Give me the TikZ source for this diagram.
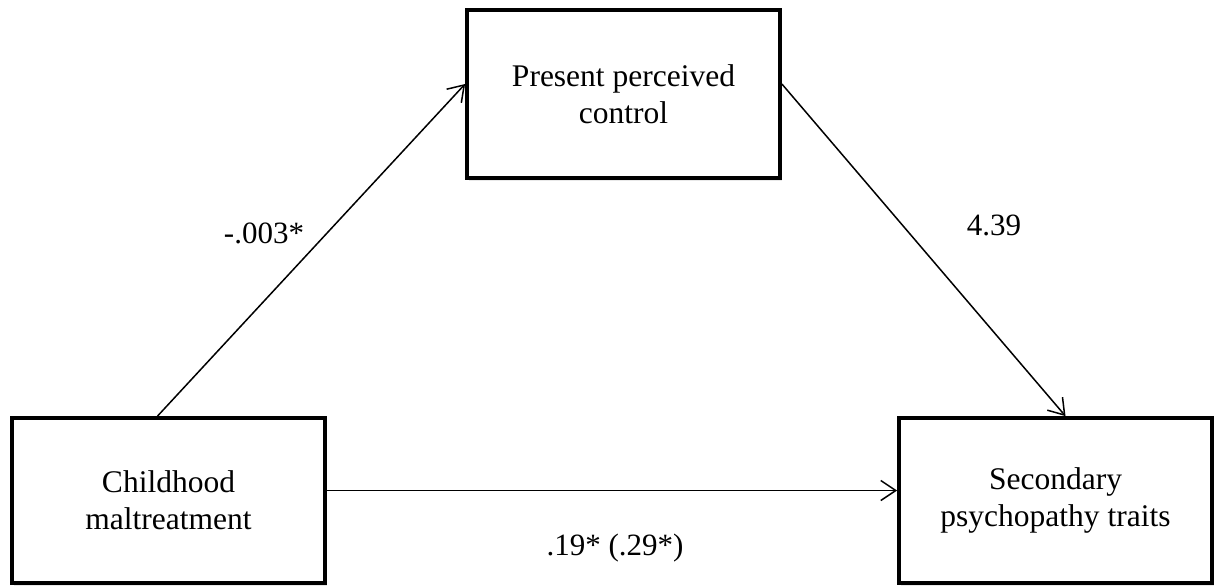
\documentclass[tikz,border=0pt]{standalone}
\usepackage{fontspec}
\setmainfont{Liberation Serif}
\usetikzlibrary{arrows.meta,calc,shadows}
\begin{document}
\begin{tikzpicture}[x=1pt,y=-1pt,
  varbox/.style={draw, line width=3.8pt, fill=white, rectangle, align=center,
    font=\fontsize{31.5}{37}\selectfont, inner sep=0pt,
    drop shadow={opacity=0.18, shadow xshift=2pt, shadow yshift=-3pt}},
  path/.style={line width=1.5pt, -{Straight Barb[length=15pt,width=20pt,line width=1.5pt]}},
  coef/.style={anchor=base, font=\fontsize{31}{37}\selectfont, inner sep=0pt}]
\useasboundingbox (0,0) rectangle (1214,587);
\node[varbox, minimum width=313pt, minimum height=168pt] (ppc) at (623.5,94) {Present perceived\\control};
\node[varbox, minimum width=313pt, minimum height=165pt] (cm) at (168.5,500.5) {Childhood\\maltreatment};
\node[varbox, minimum width=313pt, minimum height=165pt] (spt) at (1055.5,500.5) {Secondary\\psychopathy traits};
\draw[path] ($(cm.north)+(-11,0)$) -- ($(ppc.west)+(0,-10)$);
\draw[path] ($(ppc.east)+(0,-10)$) -- ($(spt.north)+(10,0)$);
\draw[path] ($(cm.east)+(0,-10)$) -- ($(spt.west)+(0,-10)$);
\node[coef] (a) at (264,243) {-.003*};
\node[coef] (b) at (994,235) {4.39};
\node[coef] (c) at (615,555) {.19* (.29*)};
\end{tikzpicture}
\end{document}
